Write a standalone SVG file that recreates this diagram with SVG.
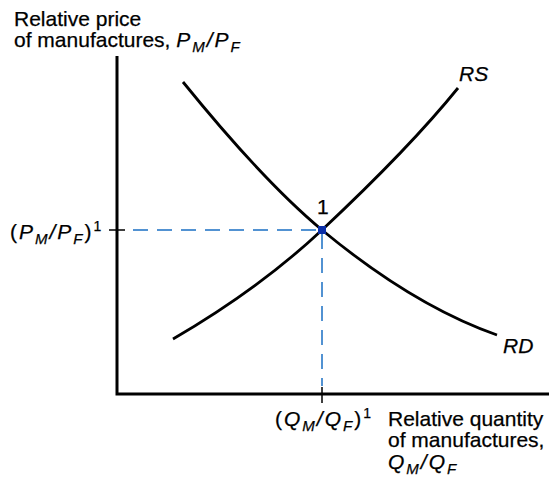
<svg xmlns="http://www.w3.org/2000/svg" width="550" height="477" viewBox="0 0 550 477">
<style>
text{font-family:"Liberation Sans",Arial,sans-serif;font-size:21px;fill:#000;stroke:#000;stroke-width:0.25}
.i{font-style:italic}
.m{letter-spacing:2px}
.sub{font-size:15px;font-style:italic}
.sup{font-size:14px}
.axis{stroke:#000;stroke-width:3;fill:none}
.curve{stroke:#000;stroke-width:2.8;fill:none}
.dash{stroke:#1a6fc4;stroke-width:1.5;stroke-dasharray:15,9;fill:none}
</style>
<rect width="550" height="477" fill="#fff"/>
<g id="axes">
<path class="axis" d="M117,56 V394 H549"/>
<path stroke="#000" stroke-width="1.5" d="M109,230 H125 M322,387 V403"/>
</g>
<g id="connectors">
<path class="dash" d="M133,230 H318"/>
<path class="dash" d="M322,234 V386"/>
</g>
<g id="RS">
<path class="curve" d="M173,339 C240,300 290,260 322,230 C370,185 420,135 458,88"/>
<text class="i" x="459" y="81">RS</text>
</g>
<g id="RD">
<path class="curve" d="M183,82 C230,140 280,195 322,230 C380,278 440,315 497,335"/>
<text class="i" x="503" y="353">RD</text>
</g>
<g id="point1">
<rect x="318" y="226" width="8" height="8" fill="#0b2fa8"/>
<text x="317" y="214" font-size="19">1</text>
</g>
<g id="ylabel">
<text x="14" y="26">Relative price</text>
<text x="14" y="47">of manufactures, <tspan class="i m">P</tspan><tspan class="sub m" dy="5">M</tspan><tspan class="i m" dy="-5">/P</tspan><tspan class="sub" dy="5">F</tspan></text>
</g>
<g id="yvalue">
<text x="10" y="239" class="m">(<tspan class="i">P</tspan><tspan class="sub" dy="5">M</tspan><tspan class="i" dy="-5">/P</tspan><tspan class="sub" dy="5">F</tspan><tspan dy="-5">)</tspan><tspan class="sup" dy="-8">1</tspan></text>
</g>
<g id="xvalue">
<text x="275" y="426" class="m">(<tspan class="i">Q</tspan><tspan class="sub" dy="5">M</tspan><tspan class="i" dy="-5">/Q</tspan><tspan class="sub" dy="5">F</tspan><tspan dy="-5">)</tspan><tspan class="sup" dy="-8">1</tspan></text>
</g>
<g id="xlabel">
<text x="388" y="426">Relative quantity</text>
<text x="388" y="447">of manufactures,</text>
<text x="388" y="469" class="m"><tspan class="i">Q</tspan><tspan class="sub" dy="5">M</tspan><tspan class="i" dy="-5">/Q</tspan><tspan class="sub" dy="5">F</tspan></text>
</g>
</svg>
